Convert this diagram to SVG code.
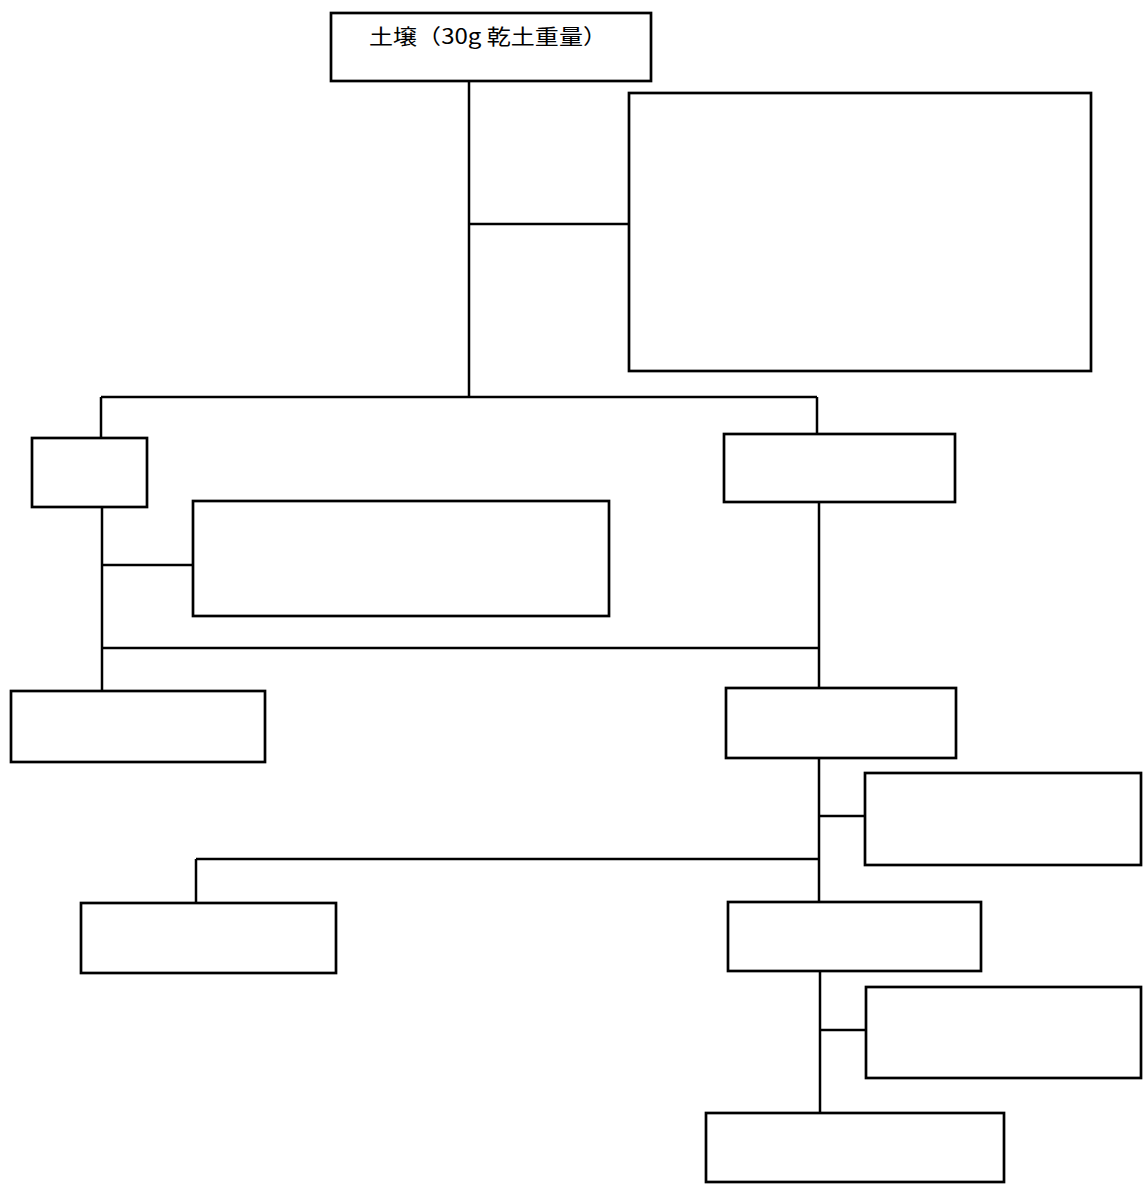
<svg xmlns="http://www.w3.org/2000/svg" width="1143" height="1184" viewBox="0 0 1143 1184" xml:lang="ja">
<style>
.n{fill:#fff;stroke:#000;stroke-width:2.7}
.c{fill:none;stroke:#000;stroke-width:2.5}
.t{font-family:"Noto Sans CJK JP","Liberation Serif",serif;font-size:21px;fill:#000}
</style>
<rect width="1143" height="1184" fill="#fff"/>
<g id="connectors">
<path class="c" d="M469 81V398M469 224H629M101 397H817M101 397V438M817 397V434"/>
<path class="c" d="M102 507V691M102 565H193M102 648H819M819 502V688"/>
<path class="c" d="M819 758V902M819 816H865M196 859H819M196 859V903"/>
<path class="c" d="M820 971V1113M820 1030H866"/>
</g>
<g id="n1"><rect class="n" x="331" y="13" width="320" height="68"/><text class="t" x="369" y="44" textLength="238" lengthAdjust="spacingAndGlyphs">土壌（30g 乾土重量）</text></g>
<g id="n2"><rect class="n" x="629" y="93" width="462" height="278"/></g>
<g id="n3"><rect class="n" x="32" y="438" width="115" height="69"/></g>
<g id="n4"><rect class="n" x="724" y="434" width="231" height="68"/></g>
<g id="n5"><rect class="n" x="193" y="501" width="416" height="115"/></g>
<g id="n6"><rect class="n" x="11" y="691" width="254" height="71"/></g>
<g id="n7"><rect class="n" x="726" y="688" width="230" height="70"/></g>
<g id="n8"><rect class="n" x="865" y="773" width="276" height="92"/></g>
<g id="n9"><rect class="n" x="81" y="903" width="255" height="70"/></g>
<g id="n10"><rect class="n" x="728" y="902" width="253" height="69"/></g>
<g id="n11"><rect class="n" x="866" y="987" width="275" height="91"/></g>
<g id="n12"><rect class="n" x="706" y="1113" width="298" height="69"/></g>
</svg>
